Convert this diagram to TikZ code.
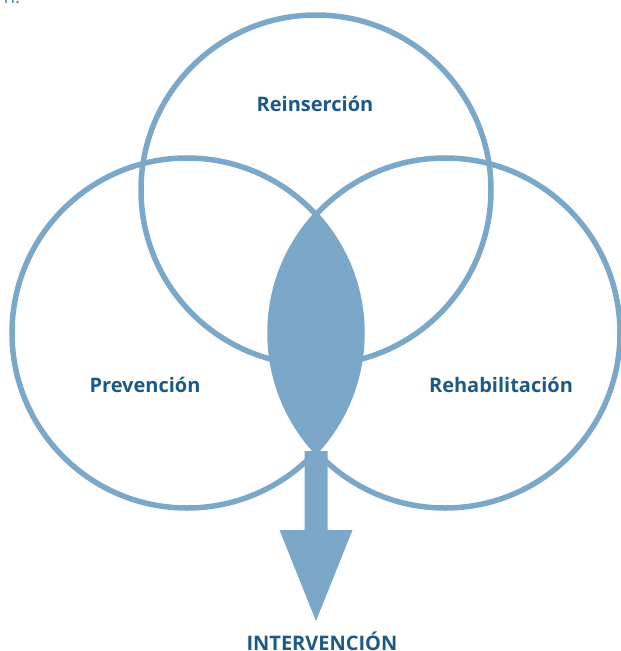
\documentclass[tikz,border=0pt]{standalone}
\usepackage{fontspec}
\setmainfont{Open Sans}
\usetikzlibrary{positioning,calc}
\definecolor{ringblue}{HTML}{7BA8C8}
\definecolor{textblue}{HTML}{1B5A86}
\definecolor{noteblue}{HTML}{4A86B8}

\begin{document}
\begin{tikzpicture}[x=1pt, y=-1pt,
    ring/.style={circle, draw=ringblue, line width=5.5pt, minimum size=350pt, inner sep=0pt},
    area/.style={anchor=base, text=textblue, font=\bfseries\fontsize{20}{24}\selectfont},
    lens/.style={fill=ringblue}
]
    \useasboundingbox (0,0) rectangle (621,651);

    \node[anchor=base west, text=noteblue, font=\fontsize{19}{22}\selectfont] (note) at (0,3) {n.};

    \node[ring] (reins) at (316,190) {};
    \begin{scope}
        \clip (187,333) circle[radius=175pt];
        \fill[lens] (445,333) circle[radius=175pt];
    \end{scope}
    \node[ring] (prev) at (187,333) {};
    \node[ring] (rehab) at (445,333) {};

    \coordinate (src) at (316,451);
    \coordinate (tip) at (316,621);
    \fill[lens] ([xshift=-11.5pt]src) -- ++(0,79) -- ++(-25,0) -- (tip)
        -- ++(36.5,-91) -- ++(-25,0) -- ([xshift=11.5pt]src) -- cycle;

    \node[area] (reinsL) at (315,111) {Reinserción};
    \node[area] (prevL) at (145,392) {Prevención};
    \node[area] (rehabL) at (501,392) {Rehabilitación};
    \node[area] (out) at (322,650) {INTERVENCIÓN};
\end{tikzpicture}
\end{document}
